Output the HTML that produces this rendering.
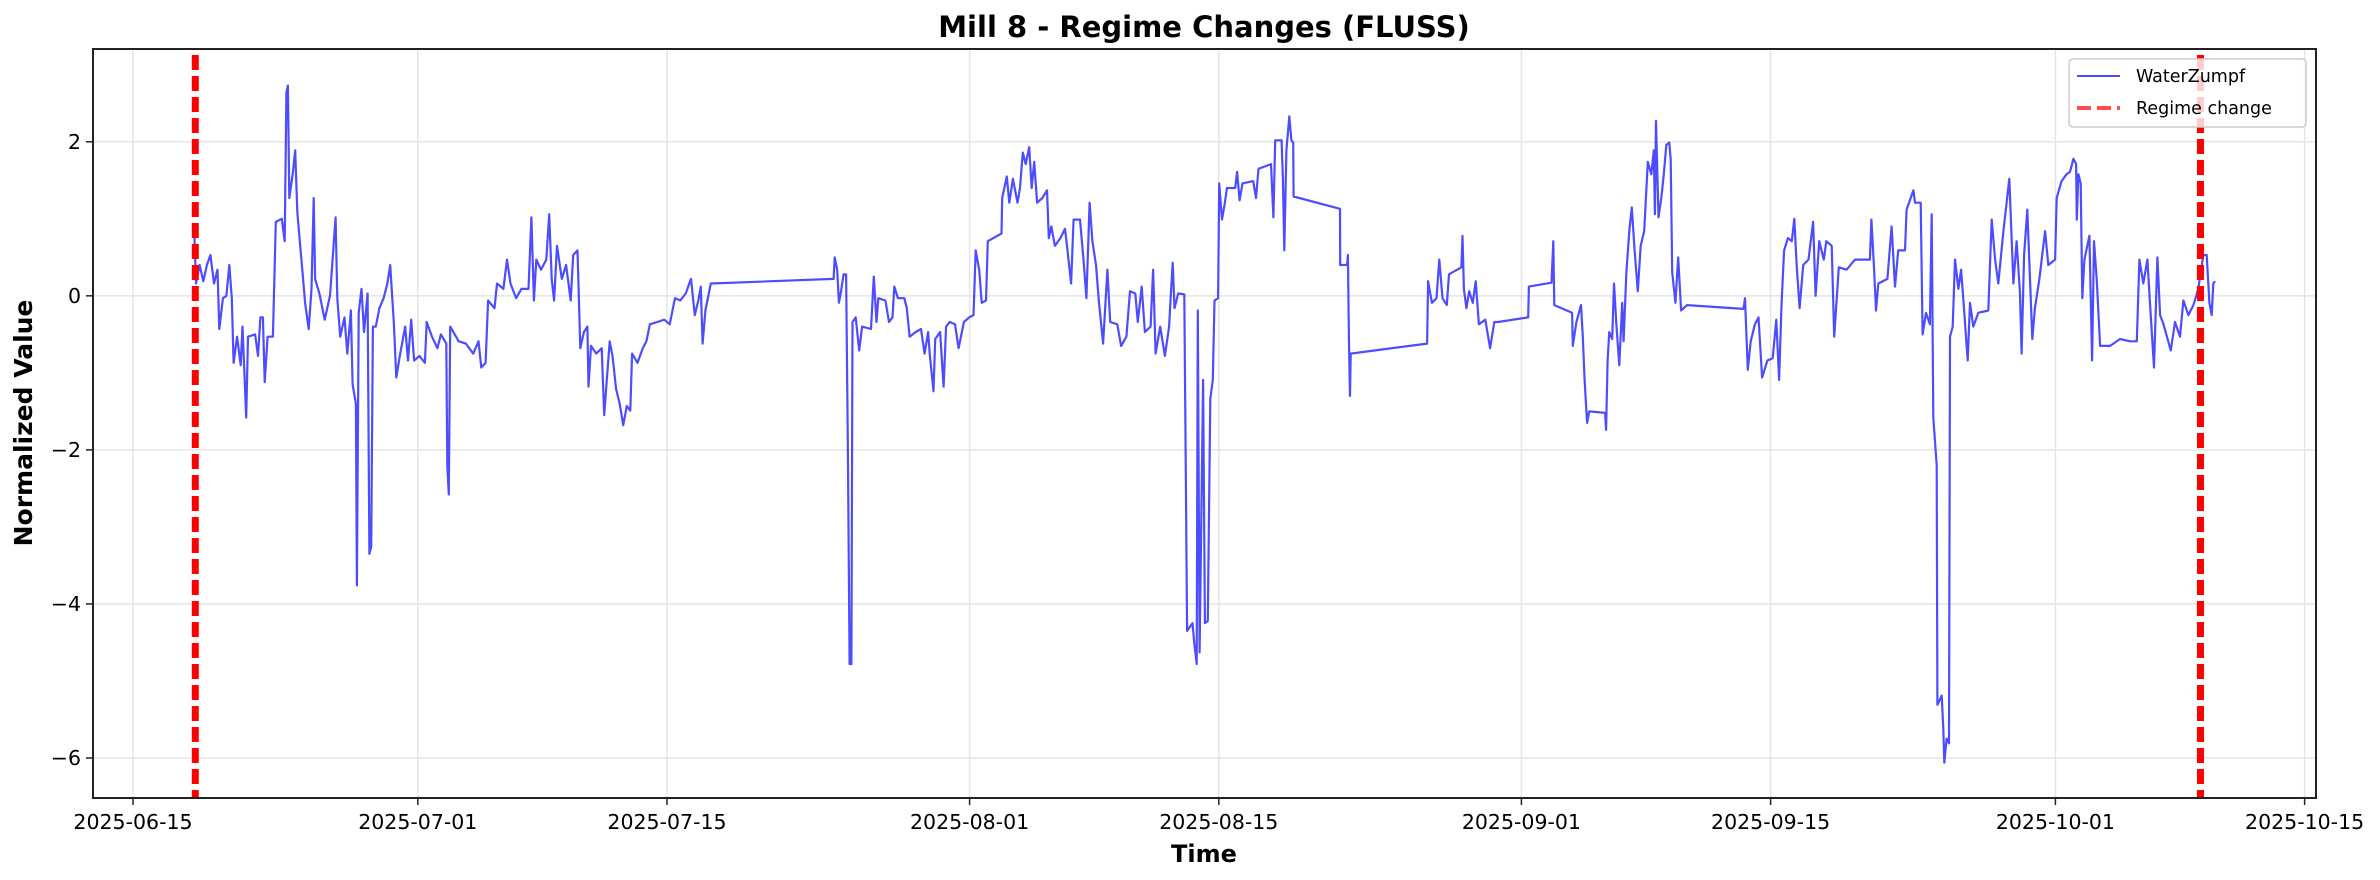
<!DOCTYPE html>
<html><head><meta charset="utf-8"><style>
html,body{margin:0;padding:0;background:#fff;}
svg{display:block;font-family:"DejaVu Sans","Liberation Sans",sans-serif;}
</style></head><body>
<svg id="chart" width="2380" height="880" viewBox="0 0 2380 880" xmlns="http://www.w3.org/2000/svg">
<rect width="2380" height="880" fill="#fff"/>
<text x="1204" y="37" text-anchor="middle" font-size="29" font-weight="bold">Mill 8 - Regime Changes (FLUSS)</text>
<g id="grid"></g>
<g id="series"></g>
<g id="regimes"></g>
<rect x="93" y="49" width="2223" height="749" fill="none" stroke="#222" stroke-width="2"/>
<g id="xticks"></g><g id="yticks"></g>
<text x="1204" y="862" text-anchor="middle" font-size="24" font-weight="bold">Time</text>
<text transform="translate(32,423) rotate(-90)" text-anchor="middle" font-size="25" font-weight="bold">Normalized Value</text>
<g>
<rect x="2069" y="59" width="237" height="68" rx="4" fill="#fff" fill-opacity="0.8" stroke="#ccc" stroke-width="1.5"/>
<line x1="2077" y1="76" x2="2120" y2="76" stroke="rgb(77,77,255)" stroke-width="2"/>
<text x="2136" y="82" font-size="17.5">WaterZumpf</text>
<line x1="2077" y1="108" x2="2120" y2="108" stroke="rgba(255,0,0,0.7)" stroke-width="4" stroke-dasharray="14,6"/>
<text x="2136" y="114" font-size="17.5">Regime change</text>
</g>
</svg>
<script>
// days since 2025-06-15
const days = [3.44,3.54,3.74,3.95,4.15,4.35,4.55,4.75,4.85,5.05,5.25,5.41,5.55,5.65,5.85,6.05,6.15,6.36,6.46,6.86,7.02,7.16,7.30,7.40,7.56,7.86,8.02,8.36,8.52,8.62,8.70,8.78,8.97,9.11,9.23,9.37,9.51,9.67,9.87,10.03,10.15,10.23,10.47,10.77,11.07,11.38,11.48,11.64,11.88,12.04,12.24,12.34,12.52,12.58,12.68,12.84,12.98,13.18,13.28,13.38,13.48,13.64,13.84,14.08,14.29,14.45,14.65,14.79,14.99,15.29,15.45,15.63,15.79,16.09,16.40,16.50,16.80,17.10,17.30,17.60,17.66,17.74,17.82,18.30,18.70,19.11,19.41,19.57,19.81,19.95,20.31,20.45,20.81,21.01,21.21,21.52,21.82,22.22,22.38,22.52,22.66,22.92,23.22,23.38,23.52,23.66,23.82,24.09,24.33,24.59,24.73,24.97,25.13,25.33,25.53,25.59,25.73,26.03,26.33,26.47,26.64,26.78,26.94,27.14,27.34,27.54,27.74,27.94,28.04,28.34,28.64,28.84,29.04,29.45,29.85,30.15,30.45,30.75,31.05,31.35,31.56,31.76,31.90,32.00,32.16,32.46,
39.36,39.42,39.56,39.66,39.76,39.92,40.06,40.16,40.26,40.36,40.42,40.60,40.80,40.96,41.46,41.62,41.77,41.87,42.27,42.47,42.67,42.77,42.97,43.33,43.47,43.63,43.97,44.27,44.47,44.67,44.77,44.97,45.07,45.34,45.54,45.68,45.88,46.18,46.38,46.68,46.98,47.22,47.34,47.54,47.68,47.92,48.02,48.79,48.83,49.09,49.23,49.43,49.69,49.83,49.99,50.15,50.35,50.49,50.63,50.79,51.09,51.35,51.45,51.59,51.79,52.10,52.36,52.50,52.70,52.84,53.20,53.40,53.56,53.74,53.90,54.10,54.26,54.50,54.74,54.90,55.30,55.51,55.81,56.01,56.31,56.45,56.67,56.85,57.17,57.31,57.45,57.71,57.97,58.21,58.31,58.41,58.51,58.72,59.06,59.12,59.22,59.52,59.62,59.76,59.82,59.92,60.12,60.22,60.38,60.52,60.66,60.76,60.96,61.02,61.18,61.32,61.46,61.92,62.03,62.17,62.33,62.93,63.09,63.23,63.93,64.07,64.17,64.53,
64.60,64.68,64.80,64.96,65.08,65.18,65.20,67.81,67.82,68.21,68.25,68.31,68.37,68.41,72.70,72.76,72.97,73.23,73.39,73.57,73.81,73.93,74.63,74.69,74.77,74.91,75.07,75.27,75.43,75.61,75.97,76.24,76.48,76.68,78.38,78.42,79.69,79.79,79.85,80.85,80.89,81.09,81.35,81.45,81.55,81.69,81.81,82.70,82.76,82.84,82.94,83.10,83.20,83.34,83.50,83.66,83.74,83.90,84.06,84.20,84.36,84.54,84.70,84.90,85.10,85.30,85.44,85.50,85.56,85.70,85.86,86.00,86.14,86.31,86.39,86.47,86.65,86.81,86.97,87.31,90.48,90.56,90.72,90.88,91.12,91.32,91.52,91.82,92.12,92.32,92.48,92.62,92.76,92.97,93.19,93.33,93.47,93.63,93.83,94.13,94.39,94.53,94.73,94.99,95.13,95.43,95.57,95.83,
96.27,96.74,97.58,97.66,97.81,97.92,98.05,98.56,98.80,98.99,99.17,99.55,99.64,100.02,100.11,100.43,100.54,100.73,100.95,101.05,101.14,101.33,101.37,101.61,101.70,101.76,101.89,102.02,102.08,102.23,102.36,102.55,102.70,102.83,103.07,103.20,103.39,103.67,104.23,104.42,104.61,104.79,105.08,105.41,105.64,105.82,106.01,106.10,106.24,106.42,106.57,106.70,106.85,107.10,107.42,107.60,107.98,108.07,108.35,108.63,108.82,109.01,109.16,109.20,109.29,109.42,109.51,109.63,109.91,110.06,110.17,110.32,110.51,111.07,111.63,112.19,112.57,112.72,112.94,113.17,113.32,113.54,113.73,113.88,114.07,114.48,114.72,115.00,115.19,115.47,115.75,116.03,116.31,116.50,116.65,116.78,116.87,116.97];
const values = [0.84,0.16,0.4,0.19,0.4,0.53,0.16,0.34,-0.43,-0.03,0,0.4,-0.03,-0.87,-0.53,-0.9,-0.4,-1.58,-0.53,-0.5,-0.78,-0.28,-0.28,-1.12,-0.53,-0.53,0.96,1.0,0.71,2.64,2.73,1.27,1.58,1.89,1.09,0.71,0.34,-0.09,-0.43,0.09,1.27,0.22,0.03,-0.31,0,1.02,-0.03,-0.53,-0.28,-0.75,-0.19,-1.15,-1.4,-3.76,-0.22,0.09,-0.47,0.03,-3.35,-3.26,-0.4,-0.4,-0.16,-0.03,0.16,0.4,-0.34,-1.06,-0.78,-0.4,-0.84,-0.31,-0.84,-0.78,-0.87,-0.34,-0.53,-0.68,-0.5,-0.62,-2.2,-2.58,-0.4,-0.59,-0.62,-0.75,-0.59,-0.93,-0.87,-0.06,-0.16,0.16,0.09,0.47,0.16,-0.03,0.09,0.09,1.02,-0.06,0.47,0.34,0.47,1.06,0.22,-0.06,0.65,0.22,0.4,-0.06,0.53,0.59,-0.68,-0.47,-0.4,-1.18,-0.65,-0.75,-0.68,-1.55,-1.02,-0.59,-0.78,-1.21,-1.4,-1.68,-1.43,-1.49,-0.75,-0.87,-0.68,-0.59,-0.37,-0.34,-0.31,-0.37,-0.03,-0.06,0.03,0.22,-0.25,-0.06,0.12,-0.62,-0.19,0.16,
0.22,0.5,0.34,-0.09,0.03,0.28,0.28,-1.89,-4.78,-4.78,-0.34,-0.28,-0.71,-0.4,-0.43,0.25,-0.34,-0.03,-0.06,-0.34,-0.28,0.12,-0.03,-0.03,-0.16,-0.53,-0.47,-0.43,-0.75,-0.47,-0.78,-1.24,-0.56,-0.47,-1.18,-0.4,-0.34,-0.37,-0.68,-0.34,-0.28,-0.25,0.59,0.34,-0.09,-0.06,0.71,0.81,1.27,1.55,1.21,1.52,1.21,1.4,1.86,1.71,1.93,1.4,1.74,1.21,1.27,1.37,0.75,0.9,0.65,0.75,0.87,0.59,0.16,0.99,0.99,0.47,-0.03,1.21,0.71,0.4,-0.06,-0.62,0.34,-0.34,-0.37,-0.65,-0.53,0.06,0.03,-0.34,0.12,-0.47,-0.4,0.34,-0.75,-0.4,-0.78,-0.4,0.03,0.43,-0.16,0.03,0.02,-1.52,-4.35,-4.25,-4.5,-4.78,-0.19,-4.63,-1.09,-4.25,-4.22,-1.34,-1.09,-0.06,-0.03,1.46,0.99,1.18,1.4,1.4,1.61,1.24,1.46,1.49,1.27,1.65,1.71,1.02,2.02,2.02,
1.52,0.59,1.89,2.33,2.02,1.99,1.29,1.13,0.4,0.4,0.53,-0.53,-1.3,-0.75,-0.62,0.19,-0.09,-0.03,0.47,-0.03,-0.12,0.28,0.37,0.78,0.09,-0.16,0.06,-0.09,0.19,-0.37,-0.31,-0.68,-0.34,-0.34,-0.28,0.12,0.17,0.71,-0.12,-0.22,-0.65,-0.34,-0.12,-0.53,-1.09,-1.65,-1.5,-1.52,-1.74,-0.84,-0.47,-0.56,0.16,-0.4,-0.9,-0.09,-0.59,0.31,0.84,1.15,0.59,0.06,0.65,0.84,1.74,1.58,1.89,1.06,2.27,1.02,1.27,1.58,1.96,1.99,1.77,0.31,-0.09,0.5,-0.19,-0.12,-0.17,-0.03,-0.96,-0.59,-0.37,-0.28,-1.06,-0.84,-0.81,-0.31,-1.09,-0.09,0.59,0.75,0.71,1.0,0.37,-0.16,0.4,0.47,0.96,0,0.71,0.47,0.71,0.65,-0.53,0.37,
0.34,0.47,0.47,0.99,0.37,-0.19,0.16,0.22,0.9,0.12,0.59,0.59,1.12,1.37,1.21,1.21,-0.5,-0.22,-0.37,1.06,-1.58,-2.2,-5.31,-5.19,-5.62,-6.06,-5.75,-5.81,-0.53,-0.4,0.47,0.09,0.34,-0.06,-0.84,-0.09,-0.4,-0.22,-0.19,0.99,0.47,0.16,0.84,1.52,0.16,0.71,0.03,-0.75,0.53,1.12,0.22,-0.56,-0.16,0.22,0.84,0.4,0.47,1.27,1.49,1.58,1.61,1.78,1.71,0.99,1.58,1.46,-0.03,0.47,0.78,-0.84,0.71,0.22,-0.65,-0.65,-0.56,-0.59,-0.59,0.47,0.16,0.47,-0.12,-0.93,0.5,-0.25,-0.37,-0.71,-0.34,-0.53,-0.06,-0.25,-0.12,0.09,0.53,0.53,-0.09,-0.25,0.16,0.19];
const regimeDays = [3.5, 116.15];
const xTickDays = [0,16,30,47,61,78,92,108,122];
const xTickLabels = ["2025-06-15","2025-07-01","2025-07-15","2025-08-01","2025-08-15","2025-09-01","2025-09-15","2025-10-01","2025-10-15"];
const yTickValues = [-6,-4,-2,0,2];
const yTickLabels = ["\u22126","\u22124","\u22122","0","2"];

const NS='http://www.w3.org/2000/svg';
const X0=93,X1=2316,Y0=49,Y1=798;
const dMin=-2.247,dMax=122.64,vMin=-6.52,vMax=3.205;
function xs(d){return X0+(d-dMin)/(dMax-dMin)*(X1-X0);}
function ys(v){return Y1-(v-vMin)/(vMax-vMin)*(Y1-Y0);}
function mk(tag,attrs,parent){const e=document.createElementNS(NS,tag);for(const k in attrs)e.setAttribute(k,attrs[k]);parent.appendChild(e);return e;}
const grid=document.getElementById('grid'),xt=document.getElementById('xticks'),yt=document.getElementById('yticks');
xTickDays.forEach((d,i)=>{
  const x=xs(d);
  const g=mk('line',{x1:x,x2:x,y1:Y0,y2:Y1,stroke:'#e5e5e5','stroke-width':1.5},grid);
  
  
  const t=mk('line',{x1:x,x2:x,y1:Y1,y2:Y1+7,stroke:'#222','stroke-width':1.5},xt);
  
  
  const l=mk('text',{x:x,y:Y1+31,'text-anchor':'middle','font-size':20.5},xt);
  l.textContent=xTickLabels[i];
  
  
});
yTickValues.forEach((v,i)=>{
  const y=ys(v);
  const g=mk('line',{x1:X0,x2:X1,y1:y,y2:y,stroke:'#e5e5e5','stroke-width':1.5},grid);
  
  
  const t=mk('line',{x1:X0-7,x2:X0,y1:y,y2:y,stroke:'#222','stroke-width':1.5},yt);
  
  
  const l=mk('text',{x:X0-12,y:y+7,'text-anchor':'end','font-size':20.5},yt);
  l.textContent=yTickLabels[i];
  
  
});
let dstr='';
for(let i=0;i<days.length;i++){dstr+=(i?'L':'M')+xs(days[i]).toFixed(1)+','+ys(values[i]).toFixed(1);}
const p=mk('path',{d:dstr,fill:'none',stroke:'rgb(77,77,255)','stroke-width':2.2,'stroke-linejoin':'round'},document.getElementById('series'));


regimeDays.forEach(d=>{
  const x=xs(d);
  const r=mk('line',{x1:x,x2:x,y1:Y0+6,y2:Y1,stroke:'#ff0000','stroke-width':7,'stroke-dasharray':'15,6'},document.getElementById('regimes'));
  
  
});
</script>
</body></html>
